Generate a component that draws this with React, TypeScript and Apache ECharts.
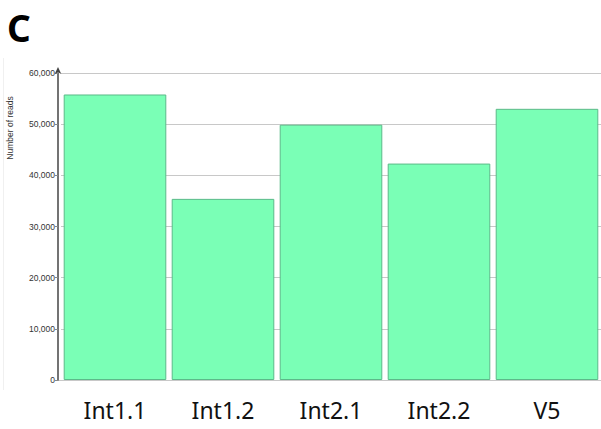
import React, { useEffect, useRef } from "react";
import * as echarts from "echarts";

const categories = ["Int1.1", "Int1.2", "Int2.1", "Int2.2", "V5"];
const reads = [55800, 35400, 49900, 42300, 53000];
const yTicks = { min: 0, max: 60000, interval: 10000 };

export default function App() {
  const ref = useRef<HTMLDivElement>(null);
  useEffect(() => {
    if (!ref.current) return;
    const chart = echarts.init(ref.current, null, { renderer: "svg" });
    chart.setOption({
      animation: false,
      backgroundColor: "#ffffff",
      grid: { left: 61, right: -3, top: 73, bottom: 49, containLabel: false },
      graphic: [
        {
          type: "text",
          x: 7,
          y: 27,
          style: {
            text: "C",
            font: 'bold 37px "Noto Sans", sans-serif',
            fill: "#000",
            verticalAlign: "middle",
          },
        },
        {
          type: "text",
          x: 10,
          y: 128,
          rotation: Math.PI / 2,
          style: {
            text: "Number of reads",
            font: '8.5px "Liberation Sans", Arial, sans-serif',
            fill: "#333",
            align: "center",
            verticalAlign: "middle",
          },
        },
        {
          type: "line",
          shape: { x1: 3.5, y1: 58, x2: 3.5, y2: 390 },
          style: { stroke: "#f0f0f0", lineWidth: 1 },
        },
        {
          type: "line",
          shape: { x1: 58, y1: 380.5, x2: 61, y2: 380.5 },
          style: { stroke: "#c8c8c8", lineWidth: 1 },
        },
      ],
      xAxis: {
        type: "category",
        data: categories,
        axisLine: { show: true, lineStyle: { color: "#c8c8c8", width: 1 } },
        axisTick: { show: false },
        axisLabel: {
          margin: 18,
          fontSize: 23,
          color: "#111",
          fontFamily: '"Noto Sans", sans-serif',
        },
      },
      yAxis: {
        type: "value",
        min: yTicks.min,
        max: yTicks.max,
        interval: yTicks.interval,
        offset: 3,
        axisLine: {
          show: true,
          lineStyle: { color: "#444", width: 1.5 },
          symbol: ["none", "arrow"],
          symbolSize: [5, 7],
          symbolOffset: [0, 6],
        },
        axisTick: { show: true, length: 3, lineStyle: { color: "#888" } },
        axisLabel: {
          margin: 3,
          fontSize: 8.5,
          color: "#333",
          fontFamily: '"Liberation Sans", Arial, sans-serif',
          formatter: (v: number) => v.toLocaleString("en-US"),
        },
        splitLine: { show: true, lineStyle: { color: "#c8c8c8", width: 1 } },
      },
      series: [
        {
          type: "bar",
          data: reads,
          barCategoryGap: "5%",
          itemStyle: {
            color: "#7affb6",
            borderColor: "#5cba89",
            borderWidth: 1,
          },
        },
      ],
    });
    return () => chart.dispose();
  }, []);
  return <div ref={ref} style={{ width: 601, height: 429, position: "absolute", left: 0, top: 0 }} />;
}
